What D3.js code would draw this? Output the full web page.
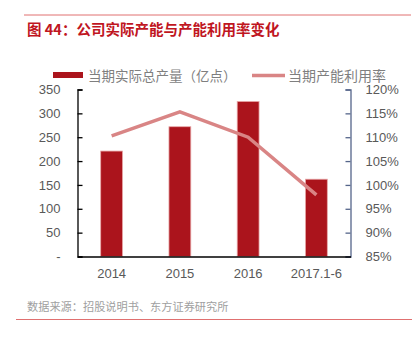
<!DOCTYPE html>
<html><head><meta charset="utf-8">
<script src="https://cdn.jsdelivr.net/npm/d3@7"></script>
<style>body{margin:0;background:#fff;}svg{display:block;}</style>
</head><body>
<svg id="c" width="412" height="338"></svg>
<script>
const categories = ["2014", "2015", "2016", "2017.1-6"];
const output = [221, 272, 325, 162];
const utilization = [110.3, 115.3, 110.0, 97.9];
const leftTicks = [0, 50, 100, 150, 200, 250, 300, 350];
const rightTicks = [85, 90, 95, 100, 105, 110, 115, 120];
const title = "图 44：公司实际产能与产能利用率变化";
const source = "数据来源：招股说明书、东方证券研究所";
const seriesNames = ["当期实际总产量（亿点）", "当期产能利用率"];

const svg = d3.select("#c");
const font = "'Noto Sans CJK SC', 'Liberation Sans', sans-serif";
const numFont = "'Liberation Sans', 'Noto Sans', sans-serif";

const L = 77.5, R = 350.5, T = 89.5, B = 256.5;
const x = d3.scaleBand().domain(categories).range([L, R]).paddingInner(0.68).paddingOuter(0.34);
const yL = d3.scaleLinear().domain([0, 350]).range([B, T]);
const yR = d3.scaleLinear().domain([85, 120]).range([B, T]);

// header line & title
svg.append("line").attr("x1", 24).attr("x2", 411).attr("y1", 15).attr("y2", 15)
  .attr("stroke", "#e07070").attr("stroke-width", 1);
svg.append("text").attr("x", 27).attr("y", 35).text(title)
  .attr("font-family", font).attr("font-size", 14.5).attr("font-weight", "bold").attr("fill", "#c0161f");

// bars
svg.append("g").selectAll("rect").data(categories).join("rect")
  .attr("x", d => x(d)).attr("width", x.bandwidth())
  .attr("y", (d, i) => yL(output[i])).attr("height", (d, i) => B - yL(output[i]))
  .attr("fill", "#ab141c").attr("stroke", "#e8a8a8").attr("stroke-width", 0.8);

// line
const line = d3.line().x(d => x(d[0]) + x.bandwidth() / 2).y(d => yR(d[1]));
svg.append("path").datum(categories.map((c, i) => [c, utilization[i]]))
  .attr("d", line).attr("fill", "none").attr("stroke", "#d98585").attr("stroke-width", 3.5);

// left axis
const gL = svg.append("g").attr("transform", `translate(${L},0)`)
  .call(d3.axisLeft(yL).tickValues(leftTicks).tickSize(-5).tickPadding(17)
    .tickFormat(d => d === 0 ? "-" : d));
gL.select(".domain").attr("stroke", "#000").attr("stroke-width", 1.3);
gL.selectAll(".tick line").attr("stroke", "#000").attr("stroke-width", 1.3);
gL.selectAll("text").attr("font-family", numFont).attr("font-size", 13).attr("fill", "#595959");

// right axis
const gR = svg.append("g").attr("transform", `translate(${R},0)`)
  .call(d3.axisRight(yR).tickValues(rightTicks).tickSize(-5).tickPadding(15)
    .tickFormat(d => d + "%"));
gR.select(".domain").attr("stroke", "#55658a").attr("stroke-width", 1.3);
gR.selectAll(".tick line").attr("stroke", "#55658a").attr("stroke-width", 1.3);
gR.selectAll("text").attr("font-family", numFont).attr("font-size", 13).attr("fill", "#595959");

// bottom axis
const gB = svg.append("g").attr("transform", `translate(0,${B})`)
  .call(d3.axisBottom(x).tickSize(0).tickPadding(12));
gB.select(".domain").attr("stroke", "#000").attr("stroke-width", 1.3);
gB.selectAll("text").attr("font-family", numFont).attr("font-size", 13).attr("fill", "#595959");

// legend
svg.append("rect").attr("x", 53).attr("y", 72).attr("width", 30).attr("height", 6).attr("fill", "#ab141c");
svg.append("text").attr("x", 88).attr("y", 80.5).text(seriesNames[0])
  .attr("font-family", font).attr("font-size", 13.5).attr("fill", "#7f7f7f");
svg.append("line").attr("x1", 252).attr("x2", 285).attr("y1", 75.5).attr("y2", 75.5)
  .attr("stroke", "#d98585").attr("stroke-width", 3.5);
svg.append("text").attr("x", 288).attr("y", 80.5).text(seriesNames[1])
  .attr("font-family", font).attr("font-size", 14).attr("fill", "#7f7f7f");

// footer
svg.append("text").attr("x", 27).attr("y", 311).text(source)
  .attr("font-family", font).attr("font-size", 11.2).attr("fill", "#a0a0a0");
svg.append("line").attr("x1", 16).attr("x2", 412).attr("y1", 319.5).attr("y2", 319.5)
  .attr("stroke", "#e07070").attr("stroke-width", 1);
</script>
</body></html>
